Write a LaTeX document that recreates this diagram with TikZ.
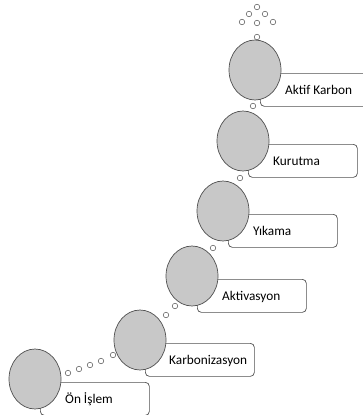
\documentclass[tikz,border=0pt]{standalone}
\usepackage{fontspec}
\setmainfont{Carlito}
\usetikzlibrary{shapes.geometric}
\definecolor{phasegray}{HTML}{C8C8C8}
\definecolor{edgegray}{HTML}{505050}
\begin{document}
\begin{tikzpicture}[x=1pt,y=-1pt,
    phase/.style={draw=edgegray,fill=phasegray,ellipse,line width=0.7pt,minimum width=52pt,minimum height=60pt,inner sep=0pt},
    tag/.style={draw=edgegray,fill=white,rounded corners=4pt,line width=0.7pt,minimum width=109pt,minimum height=33pt,anchor=north west,inner sep=0pt},
    caption/.style={anchor=base west,font=\fontsize{13.3}{16}\selectfont,inner sep=0pt,text=black},
    bubble/.style={draw=edgegray,fill=white,circle,line width=0.5pt,minimum size=5.5pt,inner sep=0pt}]
            \useasboundingbox (0,0) rectangle (363,415);
            \clip (0,0) rectangle (363,415);
            % boxes
            \node[tag] (t1) at (40,382) {};
            \node[tag] (t2) at (145,343) {};
            \node[tag] (t3) at (197,279) {};
            \node[tag] (t4) at (228,214) {};
            \node[tag] (t5) at (248,144) {};
            \node[tag] (t6) at (260,73) {};
            % circles
            \node[phase] (p1) at (35,379) {};
            \node[phase] (p2) at (140,340) {};
            \node[phase] (p3) at (192,276) {};
            \node[phase] (p4) at (223,211) {};
            \node[phase] (p5) at (243,141) {};
            \node[phase] (p6) at (255,70) {};
            % labels
            \node[caption] (l1) at (65,403) {Ön İşlem};
            \node[caption] (l2) at (169,364) {Karbonizasyon};
            \node[caption] (l3) at (222,300) {Aktivasyon};
            \node[caption] (l4) at (253,235) {Yıkama};
            \node[caption] (l5) at (273,165) {Kurutma};
            \node[caption] (l6) at (285,94) {Aktif Karbon};
            % bubbles
            \node[bubble] (s1) at (68,373) {};
            \node[bubble] (s2) at (79,369) {};
            \node[bubble] (s3) at (90,365) {};
            \node[bubble] (s4) at (101,361) {};
            \node[bubble] (s5) at (113,355) {};
            \node[bubble] (s6) at (166,315) {};
            \node[bubble] (s7) at (175,306) {};
            \node[bubble] (s8) at (213,248) {};
            \node[bubble] (s9) at (240,178) {};
            \node[bubble] (s10) at (253,106) {};
            \node[bubble] (s11) at (257,37) {};
            \node[bubble] (s12) at (242,22) {};
            \node[bubble] (s13) at (249,14) {};
            \node[bubble] (s14) at (257,7) {};
            \node[bubble] (s15) at (265,14) {};
            \node[bubble] (s16) at (273,22) {};
            \node[bubble] (s17) at (257,23) {};
        \end{tikzpicture}
\end{document}
